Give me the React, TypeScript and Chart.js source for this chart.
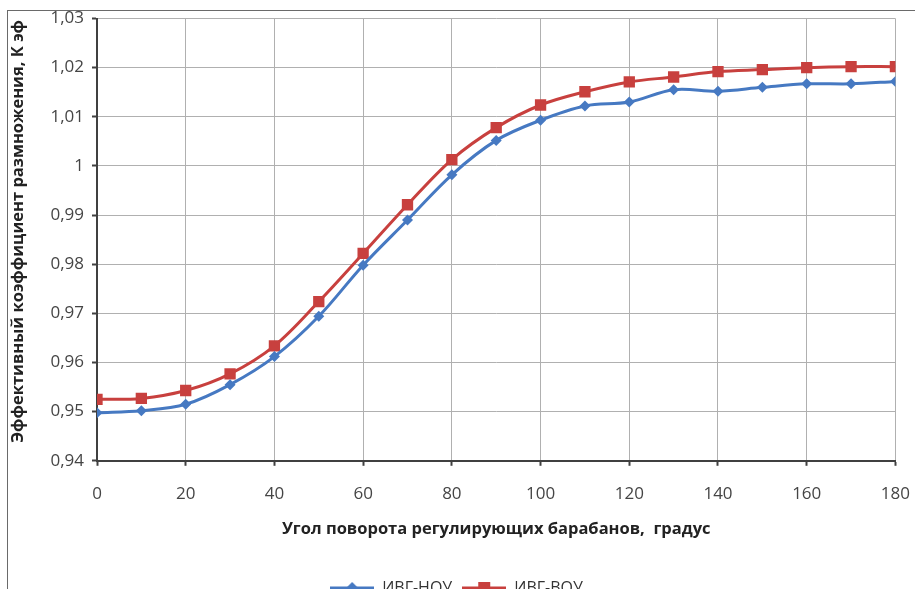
import React, { useEffect, useRef } from "react";
import { Chart, registerables } from "chart.js";

Chart.register(...registerables);

// Angle of rotation of control drums, degrees
const angles = [0, 10, 20, 30, 40, 50, 60, 70, 80, 90, 100, 110, 120, 130, 140, 150, 160, 170, 180];

// ИВГ-НОУ (blue, diamonds)
const ivgNou = [0.9498, 0.9502, 0.9515, 0.9555, 0.9612, 0.9694, 0.9798, 0.989, 0.9982, 1.0052, 1.0093, 1.0122, 1.013, 1.0155, 1.0152, 1.016, 1.0167, 1.0167, 1.0172];

// ИВГ-ВОУ (red, squares)
const ivgVou = [0.9525, 0.9527, 0.9543, 0.9577, 0.9634, 0.9724, 0.9822, 0.9921, 1.0013, 1.0078, 1.0124, 1.0151, 1.0171, 1.0181, 1.0192, 1.0196, 1.02, 1.0202, 1.0202];

const seriesNames = ["ИВГ-НОУ", "ИВГ-ВОУ"];

const yTickValues = [0.94, 0.95, 0.96, 0.97, 0.98, 0.99, 1.0, 1.01, 1.02, 1.03];
const yTickLabels = ["0,94", "0,95", "0,96", "0,97", "0,98", "0,99", "1", "1,01", "1,02", "1,03"];

const xTickValues = [0, 20, 40, 60, 80, 100, 120, 140, 160, 180];
const xTickLabels = ["0", "20", "40", "60", "80", "100", "120", "140", "160", "180"];

const xTitle = "Угол поворота регулирующих барабанов,  градус";
const yTitle = "\u2002\u2002Эффективный коэффициент размножения, К эф";

const BLUE = "#4679c2";
const RED = "#c8403e";
const FONT = '"Open Sans", "DejaVu Sans", sans-serif';

function legendImage(color: string, style: "diamond" | "square"): HTMLCanvasElement {
  const c = document.createElement("canvas");
  c.width = 44;
  c.height = 14;
  const ctx = c.getContext("2d")!;
  ctx.strokeStyle = color;
  ctx.lineWidth = 3;
  ctx.beginPath();
  ctx.moveTo(0, 7);
  ctx.lineTo(44, 7);
  ctx.stroke();
  ctx.fillStyle = color;
  if (style === "square") {
    ctx.fillRect(16, 1, 12, 12);
  } else {
    ctx.beginPath();
    ctx.moveTo(22, 1);
    ctx.lineTo(28, 7);
    ctx.lineTo(22, 13);
    ctx.lineTo(16, 7);
    ctx.closePath();
    ctx.fill();
  }
  return c;
}

export default function App() {
  const ref = useRef<HTMLCanvasElement | null>(null);

  useEffect(() => {
    if (!ref.current) return;
    const imgs = [legendImage(BLUE, "diamond"), legendImage(RED, "square")];
    const chart = new Chart(ref.current, {
      type: "line",
      data: {
        datasets: [
          {
            label: seriesNames[0],
            data: angles.map((a, i) => ({ x: a, y: ivgNou[i] })),
            borderColor: BLUE,
            backgroundColor: BLUE,
            borderWidth: 3,
            pointStyle: "rectRot",
            pointRadius: 5.5,
            pointBorderWidth: 0,
            tension: 0.35,
          },
          {
            label: seriesNames[1],
            data: angles.map((a, i) => ({ x: a, y: ivgVou[i] })),
            borderColor: RED,
            backgroundColor: RED,
            borderWidth: 3,
            pointStyle: "rect",
            pointRadius: 8,
            pointBorderWidth: 0,
            tension: 0.35,
          },
        ],
      },
      options: {
        animation: false,
        responsive: false,
        layout: { padding: { top: 0, left: 0, right: 23, bottom: 20 } },
        plugins: {
          tooltip: { enabled: false },
          legend: {
            position: "bottom",
            labels: {
              usePointStyle: true,
              pointStyleWidth: 44,
              boxHeight: 14,
              padding: 10,
              color: "#333",
              font: { family: FONT, size: 16 },
              generateLabels: (ch: any) =>
                Chart.defaults.plugins.legend.labels.generateLabels(ch).map((l: any, i: number) => ({
                  ...l,
                  pointStyle: imgs[i],
                })),
            },
          },
        },
        scales: {
          x: {
            type: "linear",
            min: 0,
            max: 180,
            afterBuildTicks: (s: any) => {
              s.ticks = xTickValues.map((v) => ({ value: v }));
            },
            ticks: {
              callback: (_v: any, i: number) => xTickLabels[i],
              color: "#454545",
              font: { family: FONT, size: 17 },
              padding: 18,
              maxRotation: 0,
            },
            grid: { color: "#b0b0b0", lineWidth: 1, tickLength: 5, tickColor: "#404040", tickWidth: 2 },
            border: { color: "#404040", width: 2 },
            title: {
              display: true,
              text: xTitle,
              color: "#222",
              font: { family: FONT, size: 16.5, weight: "bold" },
              padding: { top: -3, bottom: 31 },
            },
          },
          y: {
            type: "linear",
            min: 0.94,
            max: 1.03,
            afterBuildTicks: (s: any) => {
              s.ticks = yTickValues.map((v) => ({ value: v }));
            },
            afterFit: (s: any) => {
              s.width = 89;
            },
            ticks: {
              callback: (_v: any, i: number) => yTickLabels[i],
              color: "#454545",
              font: { family: FONT, size: 17, lineHeight: 1 },
              padding: 8,
            },
            grid: { color: "#b0b0b0", lineWidth: 1, tickLength: 5, tickColor: "#404040", tickWidth: 2 },
            border: { color: "#404040", width: 2 },
            title: {
              display: true,
              text: yTitle,
              color: "#222",
              font: { family: FONT, size: 16.5, weight: "bold" },
              padding: { top: 0, bottom: 0 },
            },
          },
        },
      },
    } as any);
    return () => chart.destroy();
  }, []);

  return (
    <div
      style={{
        position: "fixed",
        left: 0,
        top: 0,
        width: 915,
        height: 589,
        overflow: "hidden",
        background: "#fff",
      }}
    >
      <div
        style={{
          position: "absolute",
          left: 7,
          top: 10,
          width: 960,
          height: 700,
          border: "1px solid #6a6a6a",
        }}
      />
      <canvas
        ref={ref}
        width={920}
        height={624}
        style={{ position: "absolute", left: 8, top: 2, display: "block" }}
      />
    </div>
  );
}
